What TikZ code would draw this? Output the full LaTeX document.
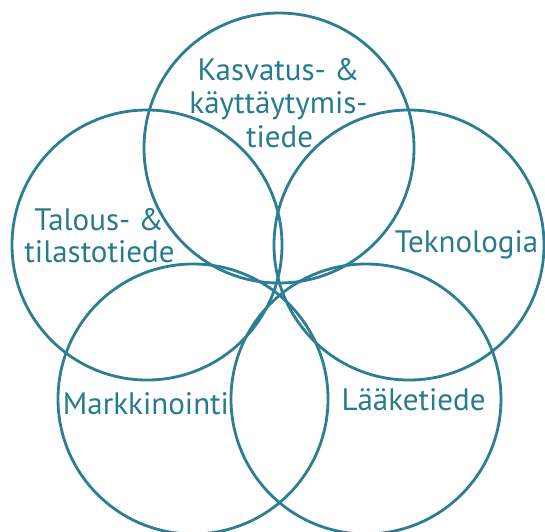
\documentclass[tikz,border=0pt]{standalone}
\usepackage{fontspec}
\setmainfont{PT Sans}
\definecolor{ringteal}{RGB}{44,127,146}
\definecolor{labelteal}{RGB}{40,122,142}
\begin{document}
\begin{tikzpicture}[x=1pt,y=-1pt,
  ring/.style={draw=ringteal,line width=2.8pt},
  lbl/.style={text=labelteal,anchor=base,inner sep=0pt,font=\fontsize{31}{34}\selectfont}]
\useasboundingbox (0,0) rectangle (545,531);
% five overlapping circles
\path[ring] (279,148) circle[radius=135];
\path[ring] (147,245) circle[radius=135];
\path[ring] (409,245) circle[radius=135];
\path[ring] (193,399) circle[radius=135];
\path[ring] (366,399) circle[radius=135];
% labels, one node per printed line
\node[lbl] (kas1) at (278.5,80.6) {Kasvatus- \&};
\node[lbl] (kas2) at (278.5,113) {käyttäytymis-};
\node[lbl] (kas3) at (279.5,147) {tiede};
\node[lbl] (tal1) at (99,230) {Talous- \&};
\node[lbl] (tal2) at (99.5,262) {tilastotiede};
\node[lbl] (tek) at (466.5,252) {Teknologia};
\node[lbl] (mark) at (146,414) {Markkinointi};
\node[lbl] (laak) at (413.5,410) {Lääketiede};
\end{tikzpicture}
\end{document}
